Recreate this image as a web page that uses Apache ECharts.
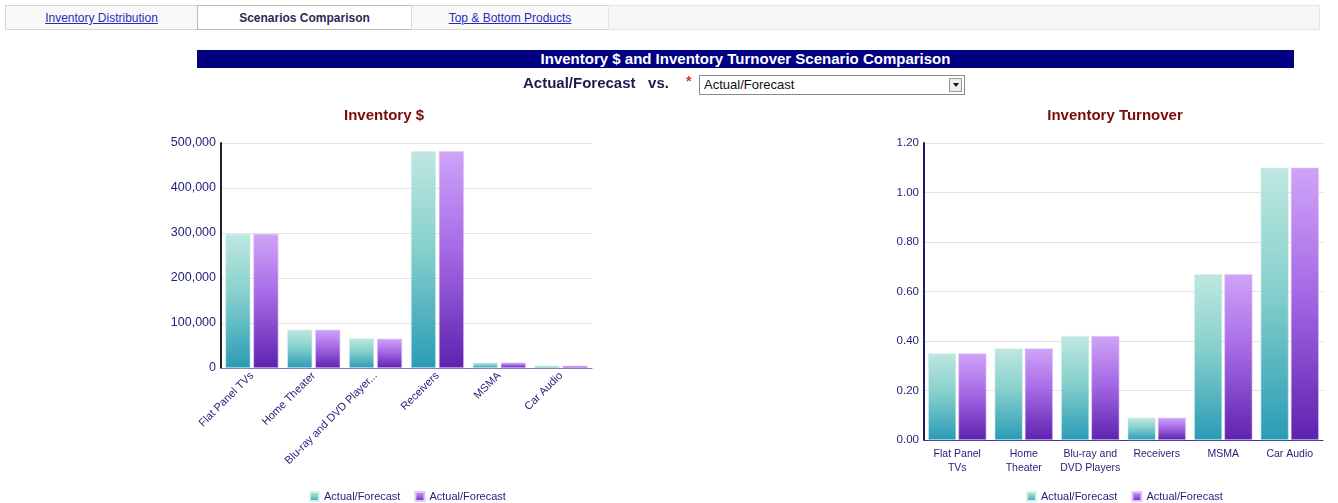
<!DOCTYPE html>
<html><head><meta charset="utf-8">
<script src="https://cdn.jsdelivr.net/npm/echarts@6/dist/echarts.min.js"></script>
<style>
html,body{margin:0;padding:0;background:#fff;width:1338px;height:503px;overflow:hidden;font-family:"Liberation Sans",Arial,sans-serif;}
#chart{position:absolute;left:0;top:0;width:1338px;height:503px;}
.abs{position:absolute;z-index:5;}
.tab{position:absolute;top:5px;height:25px;line-height:25px;text-align:center;font-size:12px;box-sizing:border-box;border:1px solid #d6d6d6;background:#f8f8f8;}
.tab a{color:#2b2bb8;text-decoration:underline;}
.tab.active{background:#fff;border:1px solid #b8b8b8;font-weight:bold;color:#2a2a55;}
#bar{left:197px;top:50px;width:1097px;height:18px;background:#000080;color:#fff;font-weight:bold;font-size:15px;line-height:18px;text-align:center;}
#vs{left:523px;top:74px;font-size:15px;font-weight:bold;color:#1c1c4c;}
#star{left:686px;top:73px;font-size:14px;color:#e03020;font-weight:bold;}
#sel{left:699px;top:75px;width:266px;height:20px;border:1px solid #8a8a8a;box-sizing:border-box;background:#fff;font-size:13px;line-height:18px;padding-left:4px;color:#111;}
#sel .arr{position:absolute;right:2px;top:2px;width:13px;height:14px;border:1px solid #9a9a9a;box-sizing:border-box;background:#eee;}
#sel .arr:after{content:"";position:absolute;left:3px;top:4px;border-left:3px solid transparent;border-right:3px solid transparent;border-top:4px solid #111;}
</style></head>
<body>
<div id="chart"></div>
<div class="tab abs" style="left:5px;width:193px;"><a>Inventory Distribution</a></div>
<div class="tab abs active" style="left:197px;width:215px;">Scenarios Comparison</div>
<div class="tab abs" style="left:411px;width:198px;"><a>Top &amp; Bottom Products</a></div>
<div class="tab abs" style="left:608px;width:712px;background:#f6f6f6;border-color:#e6e6e6;"></div>
<div id="bar" class="abs">Inventory $ and Inventory Turnover Scenario Comparison</div>
<div id="vs" class="abs">Actual/Forecast&nbsp;&nbsp;&nbsp;vs.</div>
<div id="star" class="abs">*</div>
<div id="sel" class="abs">Actual/Forecast<div class="arr"></div></div>
<script>
var invCategories = ["Flat Panel TVs","Home Theater","Blu-ray and DVD Players","Receivers","MSMA","Car Audio"];
var turnCategories = ["Flat Panel\nTVs","Home\nTheater","Blu-ray and\nDVD Players","Receivers","MSMA","Car Audio"];
var seriesNames = ["Actual/Forecast","Actual/Forecast"];
var invSeriesA = [298000, 85000, 66000, 482000, 12000, 5000];
var invSeriesB = [298000, 85000, 65000, 482000, 12000, 5000];
var turnSeriesA = [0.35, 0.37, 0.42, 0.09, 0.67, 1.10];
var turnSeriesB = [0.35, 0.37, 0.42, 0.09, 0.67, 1.10];
var invTicks = {min:0, max:500000, interval:100000};
var turnTicks = {min:0, max:1.2, interval:0.2};

var chart = echarts.init(document.getElementById('chart'));
function grad(c1,c2,c3){return new echarts.graphic.LinearGradient(0,0,0,1,[{offset:0,color:c1},{offset:0.45,color:c2},{offset:1,color:c3}]);}
var teal = grad('#bfe7e0','#86d0cc','#2a9bb6');
var purple = grad('#cfa4f7','#a66ae6','#5e22ae');
var lblColor = '#1f1f7a';
var font = '"Liberation Sans", Arial, sans-serif';
chart.setOption({
  animation:false,
  textStyle:{fontFamily:font},
  color:['#5fbcc4','#9b5ad9'],
  title:[
    {text:'Inventory $', left:379, top:103, textAlign:'center', textStyle:{color:'#7a0a0a',fontSize:15,fontWeight:'bold',fontFamily:font}},
    {text:'Inventory Turnover', left:1110, top:103, textAlign:'center', textStyle:{color:'#7a0a0a',fontSize:15,fontWeight:'bold',fontFamily:font}}
  ],
  legend:[
    {data:[{name:'A1'},{name:'A2'}], left:304, top:486, itemWidth:9, itemHeight:9, itemGap:14, icon:'rect',
     formatter:function(){return seriesNames[0];}, textStyle:{color:lblColor,fontSize:11}},
    {data:[{name:'B1'},{name:'B2'}], left:1021, top:486, itemWidth:9, itemHeight:9, itemGap:14, icon:'rect',
     formatter:function(){return seriesNames[1];}, textStyle:{color:lblColor,fontSize:11}}
  ],
  grid:[
    {left:221, top:143, width:371, height:225},
    {left:924, top:143, width:399, height:297}
  ],
  xAxis:[
    {type:'category', gridIndex:0, data:invCategories,
     axisLine:{lineStyle:{color:'#7a7ab0',width:1}}, axisTick:{show:false},
     axisLabel:{rotate:45, interval:0, color:lblColor, fontSize:11, margin:6,
       formatter:function(v){return v.length>22? v.slice(0,22)+'...':v;}}},
    {type:'category', gridIndex:1, data:turnCategories,
     axisLine:{lineStyle:{color:'#3a3a8a',width:1}}, axisTick:{show:false},
     axisLabel:{interval:0, color:lblColor, fontSize:10.5, lineHeight:14, margin:7}}
  ],
  yAxis:[
    {type:'value', gridIndex:0, min:invTicks.min, max:invTicks.max, interval:invTicks.interval,
     axisLine:{show:true,lineStyle:{color:'#222',width:2}}, axisTick:{show:false},
     splitLine:{lineStyle:{color:'#e2e2e2'}},
     axisLabel:{color:lblColor, fontSize:12.5, margin:5, formatter:function(v){return v.toLocaleString('en-US');}}},
    {type:'value', gridIndex:1, min:turnTicks.min, max:turnTicks.max, interval:turnTicks.interval,
     axisLine:{show:true,lineStyle:{color:'#1a1a70',width:2}}, axisTick:{show:false},
     splitLine:{lineStyle:{color:'#e2e2e2'}},
     axisLabel:{color:lblColor, fontSize:11.5, margin:5, formatter:function(v){return v.toFixed(2);}}}
  ],
  series:[
    {name:'A1', type:'bar', xAxisIndex:0, yAxisIndex:0, data:invSeriesA, barWidth:25, barGap:'12%', itemStyle:{color:teal, borderColor:'#d8f0ec', borderWidth:0.6}},
    {name:'A2', type:'bar', xAxisIndex:0, yAxisIndex:0, data:invSeriesB, barWidth:25, barGap:'12%', itemStyle:{color:purple, borderColor:'#e0c8f8', borderWidth:0.6}},
    {name:'B1', type:'bar', xAxisIndex:1, yAxisIndex:1, data:turnSeriesA, barWidth:28, barGap:'8%', itemStyle:{color:teal, borderColor:'#d8f0ec', borderWidth:0.6}},
    {name:'B2', type:'bar', xAxisIndex:1, yAxisIndex:1, data:turnSeriesB, barWidth:28, barGap:'8%', itemStyle:{color:purple, borderColor:'#e0c8f8', borderWidth:0.6}}
  ]
});
</script>
</body></html>
